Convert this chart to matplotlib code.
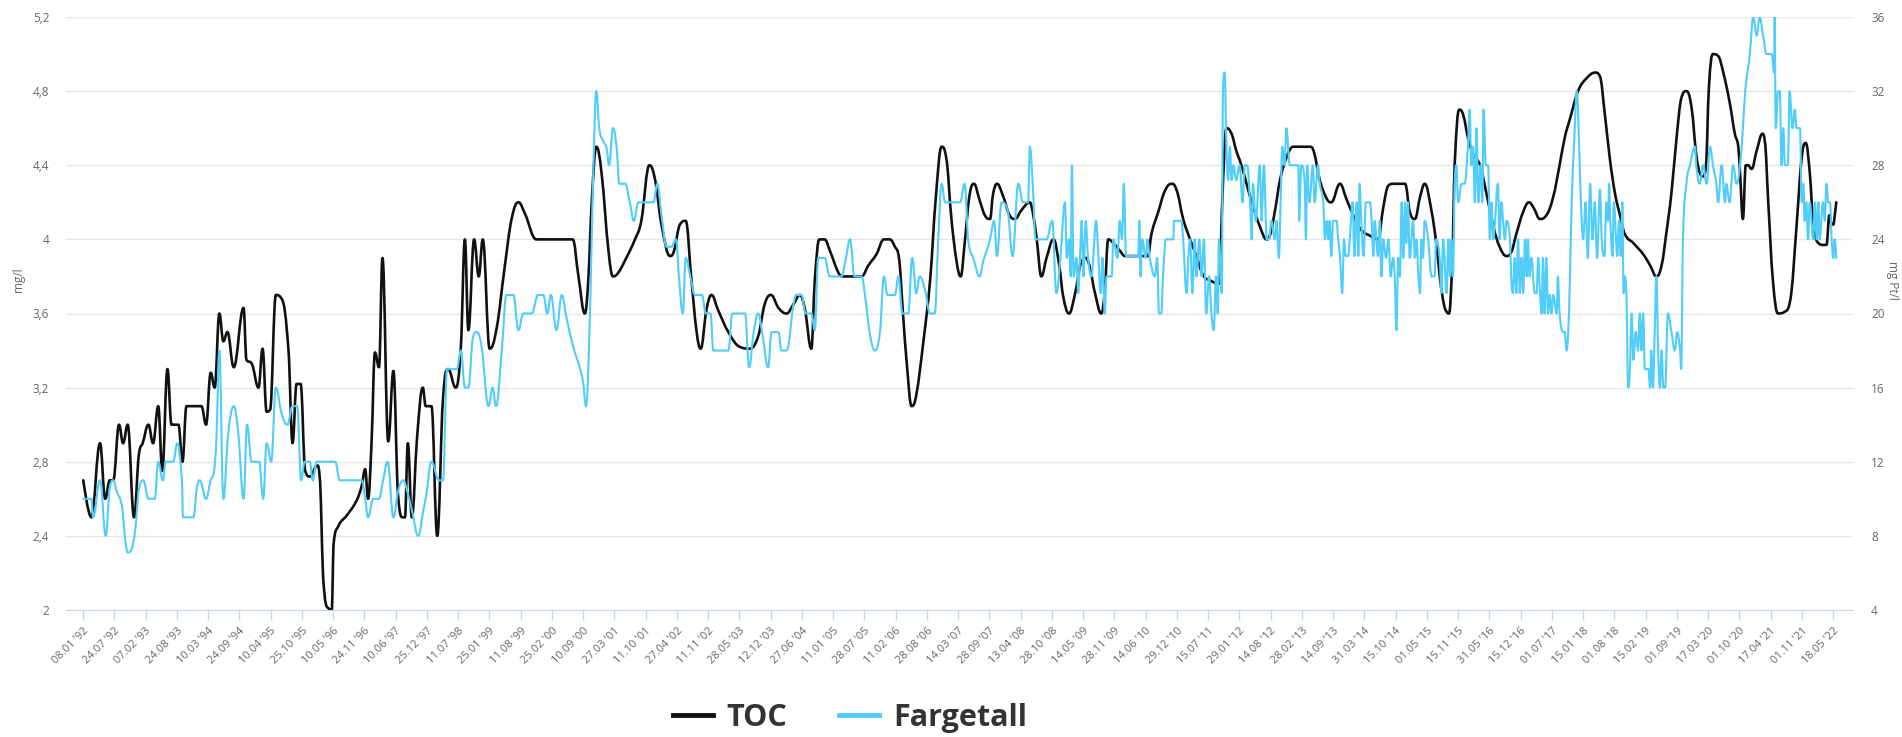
import datetime as dt
import matplotlib
matplotlib.use("Agg")
import matplotlib.pyplot as plt
from matplotlib.lines import Line2D
from matplotlib.path import Path
from matplotlib.patches import PathPatch
from matplotlib.ticker import FixedLocator, FuncFormatter

# TOC, mg/l (decimal year, value)
toc_year = [1992.02, 1992.16, 1992.31, 1992.40, 1992.48, 1992.54, 1992.64, 1992.71, 1992.79, 1992.90,
            1992.99, 1993.05, 1993.15, 1993.23, 1993.32, 1993.39, 1993.48, 1993.55, 1993.67, 1993.74,
            1993.81, 1994.07, 1994.15, 1994.23, 1994.30, 1994.38, 1994.45, 1994.52, 1994.63, 1994.80,
            1994.85, 1994.94, 1995.06, 1995.13, 1995.20, 1995.26, 1995.36, 1995.46, 1995.58, 1995.65,
            1995.72, 1995.79, 1995.87, 1995.95, 1996.08, 1996.12, 1996.18, 1996.27, 1996.33, 1996.36,
            1996.44, 1996.59, 1996.76, 1996.85, 1996.91, 1996.96, 1997.02, 1997.08, 1997.15, 1997.21,
            1997.31, 1997.40, 1997.48, 1997.56, 1997.60, 1997.65, 1997.72, 1997.81, 1997.91, 1997.96,
            1998.06, 1998.16, 1998.26, 1998.35, 1998.48, 1998.57, 1998.64, 1998.70, 1998.80, 1998.88,
            1998.95, 1999.07, 1999.19, 1999.33, 1999.45, 1999.57, 1999.68, 1999.88, 2000.51, 2000.61,
            2000.72, 2000.78, 2000.84, 2000.92, 2001.01, 2001.13, 2001.21, 2001.30, 2001.44, 2001.59,
            2001.70, 2001.84, 2001.94, 2002.05, 2002.20, 2002.27, 2002.37, 2002.47, 2002.57, 2002.66,
            2002.73, 2002.83, 2002.92, 2003.03, 2003.21, 2003.41, 2003.58, 2003.73, 2003.84, 2003.95,
            2004.08, 2004.22, 2004.34, 2004.45, 2004.54, 2004.65, 2004.71, 2004.79, 2004.88, 2004.97,
            2005.12, 2005.20, 2005.52, 2005.64, 2005.78, 2005.91, 2006.01, 2006.10, 2006.17, 2006.24,
            2006.30, 2006.39, 2006.47, 2006.59, 2006.71, 2006.81, 2006.91, 2006.99, 2007.08, 2007.17,
            2007.24, 2007.31, 2007.39, 2007.47, 2007.57, 2007.66, 2007.75, 2007.80, 2007.87, 2007.98,
            2008.09, 2008.18, 2008.30, 2008.44, 2008.50, 2008.56, 2008.64, 2008.73, 2008.85, 2008.95,
            2009.02, 2009.12, 2009.22, 2009.34, 2009.41, 2009.48, 2009.57, 2009.68, 2009.74, 2009.80,
            2009.89, 2010.00, 2010.09, 2010.49, 2010.55, 2010.67, 2010.78, 2010.90, 2010.98, 2011.10,
            2011.22, 2011.33, 2011.46, 2011.56, 2011.72, 2011.79, 2011.85, 2011.94, 2012.02, 2012.11,
            2012.29, 2012.43, 2012.55, 2012.60, 2012.69, 2012.78, 2012.89, 2013.01, 2013.30, 2013.37,
            2013.47, 2013.59, 2013.67, 2013.82, 2013.93, 2014.05, 2014.19, 2014.34, 2014.48, 2014.57,
            2014.66, 2014.74, 2014.95, 2015.03, 2015.12, 2015.21, 2015.29, 2015.41, 2015.49, 2015.58,
            2015.67, 2015.71, 2015.77, 2015.81, 2015.89, 2015.96, 2016.04, 2016.13, 2016.25, 2016.36,
            2016.48, 2016.59, 2016.71, 2016.79, 2016.88, 2017.00, 2017.10, 2017.18, 2017.29, 2017.40,
            2017.52, 2017.63, 2017.72, 2017.81, 2017.95, 2018.10, 2018.25, 2018.33, 2018.41, 2018.50,
            2018.59, 2018.67, 2018.76, 2018.91, 2019.08, 2019.20, 2019.31, 2019.40, 2019.48, 2019.57,
            2019.66, 2019.74, 2019.83, 2019.92, 2020.00, 2020.06, 2020.12, 2020.17, 2020.22, 2020.29,
            2020.38, 2020.47, 2020.58, 2020.67, 2020.73, 2020.76, 2020.81, 2020.86, 2020.90, 2020.96,
            2021.05, 2021.15, 2021.19, 2021.25, 2021.33, 2021.42, 2021.54, 2021.65, 2021.74, 2021.83,
            2021.90, 2021.97, 2022.03, 2022.12, 2022.20, 2022.26, 2022.31, 2022.35, 2022.38, 2022.40,
            2022.43]
toc_value = [2.70, 2.50, 2.90, 2.60, 2.70, 2.70, 3.00, 2.90, 3.00, 2.50,
             2.85, 2.90, 3.00, 2.90, 3.10, 2.75, 3.30, 3.00, 3.00, 2.80,
             3.10, 3.10, 3.00, 3.28, 3.20, 3.60, 3.45, 3.50, 3.31, 3.63,
             3.35, 3.33, 3.20, 3.41, 3.07, 3.08, 3.70, 3.68, 3.40, 2.90,
             3.22, 3.22, 2.75, 2.72, 2.78, 2.72, 2.18, 2.01, 2.00, 2.35,
             2.45, 2.51, 2.59, 2.67, 2.76, 2.60, 2.90, 3.39, 3.31, 3.90,
             2.91, 3.29, 2.62, 2.50, 2.50, 2.90, 2.50, 2.93, 3.20, 3.10,
             3.10, 2.40, 3.14, 3.30, 3.20, 3.42, 4.00, 3.51, 4.00, 3.80,
             4.00, 3.41, 3.52, 3.85, 4.11, 4.20, 4.14, 4.00, 4.00, 3.80,
             3.60, 3.78, 4.20, 4.50, 4.36, 3.94, 3.80, 3.82, 3.90, 4.00,
             4.10, 4.40, 4.32, 4.08, 3.91, 3.94, 4.08, 4.10, 3.78, 3.50,
             3.41, 3.62, 3.70, 3.62, 3.50, 3.42, 3.41, 3.48, 3.65, 3.70,
             3.63, 3.60, 3.65, 3.70, 3.62, 3.41, 3.78, 4.00, 4.00, 3.94,
             3.82, 3.80, 3.80, 3.86, 3.92, 4.00, 4.00, 3.96, 3.90, 3.60,
             3.35, 3.10, 3.16, 3.44, 3.78, 4.23, 4.50, 4.44, 4.11, 3.88,
             3.80, 3.98, 4.23, 4.30, 4.21, 4.13, 4.11, 4.24, 4.30, 4.23,
             4.13, 4.11, 4.16, 4.20, 4.13, 4.00, 3.80, 3.90, 4.00, 3.86,
             3.69, 3.60, 3.70, 3.88, 3.90, 3.85, 3.71, 3.60, 3.72, 4.00,
             3.98, 3.94, 3.91, 3.91, 4.03, 4.15, 4.26, 4.30, 4.27, 4.11,
             4.00, 3.91, 3.80, 3.78, 3.76, 4.30, 4.60, 4.57, 4.48, 4.40,
             4.20, 4.07, 4.00, 4.02, 4.15, 4.32, 4.44, 4.50, 4.50, 4.47,
             4.32, 4.22, 4.20, 4.30, 4.22, 4.13, 4.05, 4.02, 4.00, 4.17,
             4.29, 4.30, 4.30, 4.15, 4.11, 4.23, 4.30, 4.15, 3.98, 3.73,
             3.61, 3.60, 3.90, 4.40, 4.70, 4.67, 4.55, 4.46, 4.40, 4.25,
             4.07, 3.96, 3.91, 3.93, 4.03, 4.15, 4.20, 4.17, 4.11, 4.13,
             4.23, 4.40, 4.55, 4.65, 4.80, 4.87, 4.90, 4.88, 4.69, 4.44,
             4.25, 4.14, 4.03, 3.98, 3.92, 3.86, 3.80, 3.86, 4.03, 4.25,
             4.55, 4.76, 4.80, 4.71, 4.46, 4.36, 4.34, 4.40, 4.82, 5.00,
             4.99, 4.90, 4.74, 4.57, 4.50, 4.36, 4.11, 4.40, 4.40, 4.38,
             4.48, 4.57, 4.53, 4.20, 3.78, 3.60, 3.61, 3.71, 4.07, 4.44,
             4.52, 4.36, 4.09, 3.98, 3.97, 3.97, 4.13, 4.08, 4.08, 4.12,
             4.20]

# Fargetall, mg Pt/l (decimal year, value)
farge_year = [1992.02, 1992.16, 1992.19, 1992.31, 1992.41, 1992.48, 1992.54, 1992.60, 1992.69, 1992.74,
              1992.79, 1992.86, 1992.92, 1992.99, 1993.06, 1993.15, 1993.26, 1993.32, 1993.40, 1993.45,
              1993.58, 1993.65, 1993.73, 1993.75, 1993.93, 1993.99, 1994.04, 1994.15, 1994.23, 1994.29,
              1994.33, 1994.38, 1994.45, 1994.53, 1994.63, 1994.71, 1994.80, 1994.86, 1994.94, 1995.07,
              1995.14, 1995.20, 1995.28, 1995.36, 1995.46, 1995.56, 1995.65, 1995.73, 1995.80, 1995.86,
              1995.95, 1996.00, 1996.07, 1996.39, 1996.47, 1996.85, 1996.91, 1996.96, 1997.05, 1997.15,
              1997.22, 1997.30, 1997.40, 1997.48, 1997.57, 1997.64, 1997.72, 1997.83, 1997.92, 1997.97,
              1998.06, 1998.19, 1998.26, 1998.33, 1998.50, 1998.57, 1998.64, 1998.70, 1998.78, 1998.84,
              1998.93, 1999.05, 1999.12, 1999.18, 1999.28, 1999.36, 1999.48, 1999.57, 1999.65, 1999.80,
              1999.91, 2000.00, 2000.07, 2000.13, 2000.23, 2000.32, 2000.40, 2000.52, 2000.63, 2000.69,
              2000.74, 2000.80, 2000.87, 2000.92, 2000.97, 2001.04, 2001.10, 2001.14, 2001.21, 2001.27,
              2001.32, 2001.42, 2001.50, 2001.57, 2001.65, 2001.91, 2001.98, 2002.05, 2002.14, 2002.22,
              2002.30, 2002.36, 2002.42, 2002.47, 2002.55, 2002.63, 2002.75, 2002.82, 2002.90, 2002.95,
              2003.21, 2003.28, 2003.50, 2003.57, 2003.65, 2003.73, 2003.80, 2003.90, 2003.96, 2004.08,
              2004.13, 2004.22, 2004.34, 2004.39, 2004.48, 2004.55, 2004.65, 2004.71, 2004.77, 2004.88,
              2004.97, 2005.17, 2005.25, 2005.32, 2005.40, 2005.52, 2005.58, 2005.66, 2005.75, 2005.84,
              2005.91, 2005.97, 2006.10, 2006.16, 2006.23, 2006.33, 2006.40, 2006.47, 2006.53, 2006.62,
              2006.71, 2006.79, 2006.85, 2006.91, 2006.97, 2007.23, 2007.31, 2007.37, 2007.46, 2007.57,
              2007.63, 2007.75, 2007.82, 2007.87, 2007.95, 2008.06, 2008.14, 2008.24, 2008.32, 2008.41,
              2008.44, 2008.49, 2008.54, 2008.73, 2008.83, 2008.90, 2008.97, 2009.05, 2009.08, 2009.12,
              2009.15, 2009.17, 2009.20, 2009.25, 2009.28, 2009.31, 2009.34, 2009.37, 2009.41, 2009.45,
              2009.51, 2009.54, 2009.59, 2009.63, 2009.67, 2009.70, 2009.74, 2009.77, 2009.86, 2009.89,
              2009.96, 2010.00, 2010.04, 2010.07, 2010.11, 2010.32, 2010.34, 2010.36, 2010.39, 2010.45,
              2010.48, 2010.52, 2010.61, 2010.65, 2010.68, 2010.72, 2010.75, 2010.80, 2010.93, 2010.94,
              2011.07, 2011.10, 2011.16, 2011.19, 2011.22, 2011.26, 2011.30, 2011.33, 2011.38, 2011.42,
              2011.46, 2011.50, 2011.55, 2011.59, 2011.63, 2011.67, 2011.70, 2011.72, 2011.77, 2011.79,
              2011.82, 2011.85, 2011.88, 2011.91, 2011.94, 2011.97, 2012.02, 2012.08, 2012.13, 2012.17,
              2012.21, 2012.26, 2012.29, 2012.31, 2012.36, 2012.43, 2012.46, 2012.50, 2012.55, 2012.59,
              2012.63, 2012.69, 2012.72, 2012.76, 2012.79, 2012.82, 2012.86, 2012.89, 2012.95, 2013.10,
              2013.11, 2013.15, 2013.21, 2013.23, 2013.25, 2013.29, 2013.35, 2013.38, 2013.44, 2013.47,
              2013.53, 2013.56, 2013.59, 2013.62, 2013.64, 2013.67, 2013.70, 2013.76, 2013.79, 2013.82,
              2013.86, 2013.89, 2013.92, 2013.96, 2013.99, 2014.04, 2014.07, 2014.11, 2014.14, 2014.16,
              2014.19, 2014.23, 2014.27, 2014.34, 2014.37, 2014.40, 2014.42, 2014.48, 2014.51, 2014.54,
              2014.57, 2014.62, 2014.66, 2014.70, 2014.74, 2014.77, 2014.80, 2014.83, 2014.86, 2014.89,
              2014.92, 2014.95, 2014.97, 2015.00, 2015.03, 2015.09, 2015.12, 2015.15, 2015.18, 2015.21,
              2015.23, 2015.26, 2015.29, 2015.35, 2015.41, 2015.46, 2015.49, 2015.55, 2015.58, 2015.61,
              2015.67, 2015.70, 2015.73, 2015.75, 2015.78, 2015.81, 2015.84, 2015.87, 2015.93, 2015.98,
              2016.04, 2016.07, 2016.10, 2016.13, 2016.16, 2016.19, 2016.22, 2016.26, 2016.29, 2016.31,
              2016.35, 2016.39, 2016.42, 2016.45, 2016.48, 2016.51, 2016.56, 2016.59, 2016.62, 2016.65,
              2016.68, 2016.71, 2016.77, 2016.79, 2016.82, 2016.85, 2016.88, 2016.91, 2016.94, 2016.97,
              2017.00, 2017.03, 2017.06, 2017.08, 2017.11, 2017.14, 2017.20, 2017.23, 2017.26, 2017.29,
              2017.32, 2017.34, 2017.37, 2017.40, 2017.43, 2017.46, 2017.49, 2017.52, 2017.58, 2017.60,
              2017.63, 2017.69, 2017.72, 2017.75, 2017.78, 2017.81, 2017.84, 2017.88, 2017.93, 2017.97,
              2018.00, 2018.04, 2018.08, 2018.12, 2018.16, 2018.20, 2018.24, 2018.28, 2018.33, 2018.36,
              2018.41, 2018.44, 2018.47, 2018.49, 2018.51, 2018.55, 2018.57, 2018.61, 2018.63, 2018.66,
              2018.69, 2018.72, 2018.74, 2018.76, 2018.79, 2018.82, 2018.85, 2018.88, 2018.91, 2018.95,
              2018.99, 2019.02, 2019.05, 2019.08, 2019.11, 2019.17, 2019.20, 2019.22, 2019.25, 2019.28,
              2019.31, 2019.34, 2019.37, 2019.40, 2019.43, 2019.46, 2019.51, 2019.57, 2019.63, 2019.67,
              2019.72, 2019.74, 2019.77, 2019.83, 2019.89, 2019.98, 2020.00, 2020.06, 2020.12, 2020.18,
              2020.24, 2020.29, 2020.35, 2020.38, 2020.44, 2020.50, 2020.52, 2020.58, 2020.64, 2020.70,
              2020.76, 2020.81, 2020.85, 2020.93, 2020.99, 2021.05, 2021.10, 2021.16, 2021.22, 2021.31,
              2021.35, 2021.36, 2021.38, 2021.42, 2021.45, 2021.48, 2021.51, 2021.54, 2021.59, 2021.62,
              2021.67, 2021.71, 2021.74, 2021.80, 2021.83, 2021.86, 2021.88, 2021.91, 2021.94, 2021.97,
              2022.03, 2022.06, 2022.09, 2022.12, 2022.14, 2022.20, 2022.23, 2022.26, 2022.29, 2022.32,
              2022.35, 2022.38, 2022.40, 2022.43]
farge_value = [10, 10, 9, 11, 8, 10.6, 11, 10.4, 9.6, 8,
               7.1, 7.3, 8.3, 10.6, 11, 10, 10, 12, 11, 12,
               12, 13, 11, 9, 9, 10.6, 11, 10, 11, 11.5,
               13.3, 18, 10, 13.4, 15, 13.5, 10, 14, 12, 12,
               10, 13, 12, 16, 14.6, 14, 15, 15, 11, 12,
               12, 11, 12, 12, 11, 11, 10, 9, 10, 10,
               11, 12, 9, 10.4, 11, 10.4, 9.4, 8, 9.4, 10.2,
               12, 11, 11, 17, 17, 18, 16, 16, 18.7, 19,
               18.2, 15, 16, 15, 18, 21, 21, 19.1, 20, 20,
               21, 21, 20, 21, 19.1, 21, 19.8, 18.2, 17.1, 16.3,
               15, 19, 28, 32, 30, 29.3, 28.9, 28, 30, 29,
               27, 27, 26, 25, 26, 26, 27, 25.3, 23.6, 23.6,
               24, 21.7, 20, 23, 22, 21, 21, 20, 20, 18,
               18, 20, 20, 17.1, 19, 20, 18.9, 17.1, 19, 19,
               18, 18, 20.5, 21, 21, 20, 20, 19.1, 23, 23,
               22, 22, 23, 24, 22, 22, 21, 19, 18, 19,
               22, 21, 21, 22, 20, 20, 23, 21.1, 22, 21.3,
               20, 20, 23.9, 27, 26, 26, 27, 24, 23, 22,
               22.8, 24, 25, 23.1, 26, 25.5, 23.1, 27, 26, 26,
               29, 27, 24, 24, 25, 21.1, 23, 26, 23, 24,
               22, 28, 22, 23, 21.1, 23, 25, 22, 25, 23,
               22, 23, 25, 23, 21.1, 23, 20, 22, 22, 24,
               23, 25, 24, 27, 23.1, 23.1, 25, 22, 24, 23,
               24, 23, 22, 23, 20, 20, 22, 24, 24, 25,
               25, 24, 21.1, 23, 24, 21.1, 24, 22, 24, 22,
               24, 20, 22, 20, 19.1, 22, 20, 24, 21.1, 32,
               33, 29, 27.2, 29, 27.2, 28, 27.2, 28, 26, 28,
               28, 26, 24, 27, 25, 28, 25, 28, 24, 24,
               25, 24, 25, 23, 26, 29, 28, 30, 28, 28,
               25, 28, 27, 24, 28, 26, 28, 26, 28, 27,
               26, 24, 25, 24, 25, 23.1, 25, 25, 24, 23.1,
               21.1, 24, 23.1, 23.1, 24, 26, 23.1, 26, 23.1, 27,
               25, 23.1, 26, 26, 25, 23.1, 25, 23.1, 25, 22,
               24, 23, 24, 22, 23, 22, 19.1, 23, 22, 26,
               23, 26, 23.8, 26, 23, 25, 23, 24, 22, 21.1,
               24, 23, 25, 24, 22, 22, 24, 23, 21.1, 24,
               21.1, 24, 22, 24, 22, 27, 28, 26, 27, 27,
               29, 31, 28, 29, 26, 30, 26, 28, 26, 31,
               28, 28, 24, 26, 24, 25, 27, 24, 26, 25,
               24, 25, 24, 22, 21.1, 23, 21.1, 24, 21.1, 23,
               21.1, 24, 22, 24, 22, 23, 21.1, 21.1, 23, 21.1,
               20, 23, 20, 23, 20, 21, 20, 21, 20, 22,
               20, 19, 19, 18, 19, 22, 26, 29, 32, 29,
               26, 24, 26, 23, 27, 24, 26, 23, 26.7, 24,
               23.1, 26, 25, 27, 25, 23.1, 26, 24, 23.1, 25,
               23.1, 26, 21.1, 22, 21, 16, 17, 20, 17.5, 19,
               18, 20, 18, 20, 17, 17, 16, 18, 16, 19,
               22, 18, 16, 18, 16, 16, 20, 19, 18, 19,
               18, 17, 24, 27, 28, 29, 28, 27, 28, 27,
               29, 28, 27, 26, 28, 26, 27, 26, 28, 27,
               28, 30, 32, 34, 36, 35, 36, 35, 34, 34,
               33, 36, 30, 32, 32, 28, 30, 28, 28, 32,
               30, 31, 30, 30, 26, 27, 25, 26, 24, 26,
               24, 26, 24, 26, 24, 26, 25, 27, 26, 26,
               24, 23, 24, 23]

tick_labels = ["08.01 '92", "24.07 '92", "07.02 '93", "24.08 '93", "10.03 '94", "24.09 '94",
               "10.04 '95", "25.10 '95", "10.05 '96", "24.11 '96", "10.06 '97", "25.12 '97",
               "11.07 '98", "25.01 '99", "11.08 '99", "25.02 '00", "10.09 '00", "27.03 '01",
               "11.10 '01", "27.04 '02", "11.11 '02", "28.05 '03", "12.12 '03", "27.06 '04",
               "11.01 '05", "28.07 '05", "11.02 '06", "28.08 '06", "14.03 '07", "28.09 '07",
               "13.04 '08", "28.10 '08", "14.05 '09", "28.11 '09", "14.06 '10", "29.12 '10",
               "15.07 '11", "29.01 '12", "14.08 '12", "28.02 '13", "14.09 '13", "31.03 '14",
               "15.10 '14", "01.05 '15", "15.11 '15", "31.05 '16", "15.12 '16", "01.07 '17",
               "15.01 '18", "01.08 '18", "15.02 '19", "01.09 '19", "17.03 '20", "01.10 '20",
               "17.04 '21", "01.11 '21", "18.05 '22"]

toc_ticks = [2, 2.4, 2.8, 3.2, 3.6, 4, 4.4, 4.8, 5.2]
farge_ticks = [4, 8, 12, 16, 20, 24, 28, 32, 36]


def label_to_year(lbl):
    dm, yy = lbl.split(" '")
    d, m = dm.split(".")
    date = dt.date(1900 + int(yy) if int(yy) > 50 else 2000 + int(yy), int(m), int(d))
    start = dt.date(date.year, 1, 1)
    ndays = (dt.date(date.year + 1, 1, 1) - start).days
    return date.year + (date - start).days / ndays


def spline_path(xs, ys, smoothing=1.5):
    # bezier path through the points, same control-point rule as a Highcharts spline
    n = len(xs)
    left = [(xs[i], ys[i]) for i in range(n)]
    right = [(xs[i], ys[i]) for i in range(n)]
    denom = smoothing + 1
    for i in range(1, n - 1):
        x, y = xs[i], ys[i]
        lx, ly = xs[i - 1], ys[i - 1]
        nx, ny = xs[i + 1], ys[i + 1]
        lcx, lcy = (smoothing * x + lx) / denom, (smoothing * y + ly) / denom
        rcx, rcy = (smoothing * x + nx) / denom, (smoothing * y + ny) / denom
        if rcx != lcx:
            corr = (rcy - lcy) * (rcx - x) / (rcx - lcx) + y - rcy
            lcy += corr
            rcy += corr
        if lcy > ly and lcy > y:
            lcy = max(ly, y)
            rcy = 2 * y - lcy
        elif lcy < ly and lcy < y:
            lcy = min(ly, y)
            rcy = 2 * y - lcy
        if rcy > ny and rcy > y:
            rcy = max(ny, y)
            lcy = 2 * y - rcy
        elif rcy < ny and rcy < y:
            rcy = min(ny, y)
            lcy = 2 * y - rcy
        left[i] = (lcx, lcy)
        right[i] = (rcx, rcy)
    verts = [(xs[0], ys[0])]
    codes = [Path.MOVETO]
    for i in range(1, n):
        verts += [right[i - 1], left[i], (xs[i], ys[i])]
        codes += [Path.CURVE4] * 3
    return Path(verts, codes)


plt.rcParams['font.family'] = ['Open Sans', 'DejaVu Sans']

W, H = 1902, 737
fig = plt.figure(figsize=(W / 100, H / 100), dpi=100)
fig.subplots_adjust(left=66 / W, right=1853 / W, top=1 - 17 / H, bottom=1 - 610 / H)
ax = fig.add_subplot(111)
ax2 = ax.twinx()

label_col = '#666666'
axis_col = '#ccd6eb'
blue = '#50cdf9'

ax.add_patch(PathPatch(spline_path(toc_year, toc_value), facecolor='none',
                       edgecolor='#111111', lw=1.9, joinstyle='round', capstyle='round'))
ax2.add_patch(PathPatch(spline_path(farge_year, farge_value), facecolor='none',
                        edgecolor=blue, lw=1.5, joinstyle='round', capstyle='round'))

ax.set_xlim(1991.72, 2022.72)
ax.set_ylim(2, 5.2)
ax2.set_ylim(4, 36)

ax.yaxis.set_major_locator(FixedLocator(toc_ticks))
ax.yaxis.set_major_formatter(FuncFormatter(lambda v, p: f'{v:g}'.replace('.', ',')))
ax2.yaxis.set_major_locator(FixedLocator(farge_ticks))
ax2.yaxis.set_major_formatter(FuncFormatter(lambda v, p: f'{v:g}'))

ax.set_xticks([label_to_year(t) for t in tick_labels])
ax.set_xticklabels(tick_labels, rotation=45, ha='right', rotation_mode='anchor',
                   fontsize=8, color=label_col)

ax.grid(axis='y', color='#e6e6e6', lw=1)
ax.set_axisbelow(True)
for s in ['top', 'left', 'right']:
    ax.spines[s].set_visible(False)
for s in ax2.spines.values():
    s.set_visible(False)
ax.spines['bottom'].set_color(axis_col)
ax.tick_params(axis='x', colors=axis_col, length=7, width=1, pad=4, labelcolor=label_col)
ax.tick_params(axis='y', length=0, pad=12, labelsize=8.5, labelcolor=label_col)
ax2.tick_params(axis='y', length=0, pad=13, labelsize=8.5, labelcolor=label_col)

fig.text(19 / W, 1 - 280 / H, 'mg/l', rotation=90, ha='center', va='center',
         fontsize=8.5, color=label_col)
fig.text(1893 / W, 1 - 280 / H, 'mg Pt/l', rotation=270, ha='center', va='center',
         fontsize=8.5, color=label_col)

handles = [Line2D([], [], color='#111111', lw=3.5), Line2D([], [], color=blue, lw=3.5)]
fig.legend(handles, ['TOC', 'Fargetall'], loc='center', bbox_to_anchor=(850 / W, 1 - 718 / H),
           ncol=2, frameon=False, prop={'weight': 'bold', 'size': 22}, labelcolor='#333333',
           handlelength=1.3, handletextpad=0.45, columnspacing=1.7)

fig.savefig('out.png', dpi=100)
